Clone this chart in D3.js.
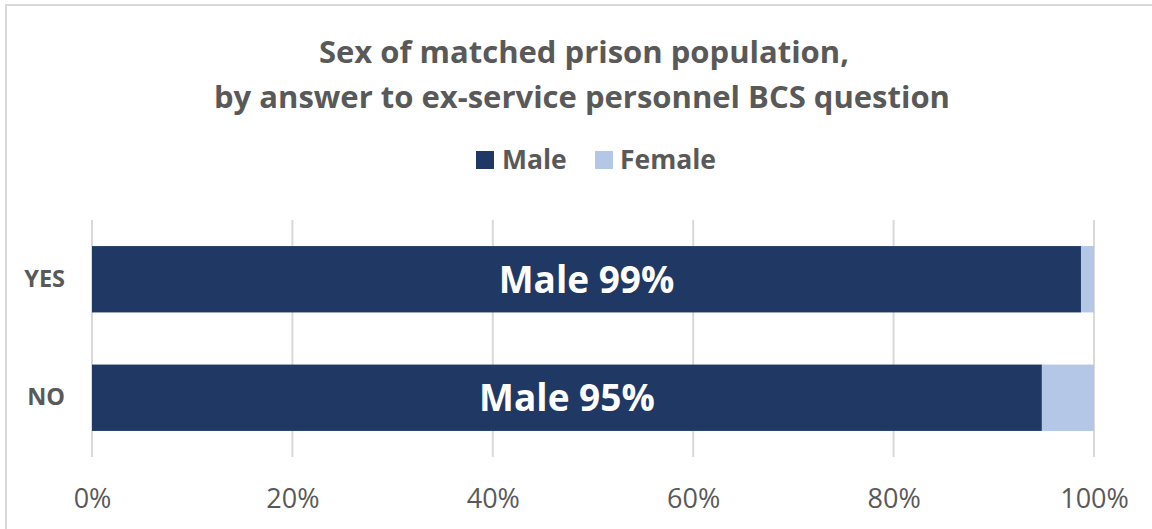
<!DOCTYPE html>
<html><head><meta charset="utf-8">
<script src="https://cdn.jsdelivr.net/npm/d3@7"></script>
<style>body{margin:0;background:#fff;} svg{display:block;font-family:"Open Sans",Lato,sans-serif;}</style>
</head><body>
<svg id="c" width="1152" height="529"></svg>
<script>
const categories = ["YES", "NO"];
const maleValues = [98.7, 94.8];
const femaleValues = [1.3, 5.2];
const barLabels = ["Male 99%", "Male 95%"];
const tickValues = [0, 20, 40, 60, 80, 100];
const seriesNames = ["Male", "Female"];
const colors = ["#203864", "#b4c7e7"];
const FONT = "'Open Sans',Lato,sans-serif";

const svg = d3.select("#c");
svg.append("rect").attr("x",6).attr("y",5).attr("width",1160).attr("height",540)
  .attr("fill","#fff").attr("stroke","#d9d9d9").attr("stroke-width",2);

const x = d3.scaleLinear().domain([0,100]).range([92,1094]);
const y = d3.scaleBand().domain(categories).range([220,457]).paddingInner(0.44).paddingOuter(0.22);

const title = svg.append("text").attr("text-anchor","middle").attr("fill","#595959")
  .attr("font-weight","bold").attr("font-size",31);
title.append("tspan").attr("x",584).attr("y",63).text("Sex of matched prison population,");
title.append("tspan").attr("x",582).attr("y",108).text("by answer to ex-service personnel BCS question");

// legend
const leg = [{x:476, tx:502},{x:595, tx:620}];
seriesNames.forEach((s,i)=>{
  svg.append("rect").attr("x",leg[i].x).attr("y",151).attr("width",18).attr("height",18).attr("fill",colors[i]);
  svg.append("text").attr("x",leg[i].tx).attr("y",169).attr("fill","#595959").attr("font-weight","bold")
    .attr("font-size",26.5).text(s);
});

// gridlines
svg.append("g").selectAll("line").data(tickValues).join("line")
  .attr("x1",d=>x(d)).attr("x2",d=>x(d)).attr("y1",220).attr("y2",457)
  .attr("stroke","#d9d9d9").attr("stroke-width",2);

// bars
const rows = categories.map((c,i)=>({c, m:maleValues[i], f:femaleValues[i], label:barLabels[i]}));
svg.append("g").selectAll("rect").data(rows).join("rect")
  .attr("x",x(0)).attr("y",d=>y(d.c)).attr("width",d=>x(d.m)-x(0)).attr("height",y.bandwidth()).attr("fill",colors[0]);
svg.append("g").selectAll("rect").data(rows).join("rect")
  .attr("x",d=>x(d.m)).attr("y",d=>y(d.c)).attr("width",d=>x(d.m+d.f)-x(d.m)).attr("height",y.bandwidth()).attr("fill",colors[1]);
svg.append("g").selectAll("text").data(rows).join("text")
  .attr("x",d=>(x(0)+x(d.m))/2).attr("y",d=>y(d.c)+y.bandwidth()/2).attr("dy","0.36em")
  .attr("text-anchor","middle").attr("fill","#fff").attr("font-weight","bold").attr("font-size",37)
  .text(d=>d.label);

// y axis labels
const ya = svg.append("g").attr("transform","translate(92,0)")
  .call(d3.axisLeft(y).tickSize(0).tickPadding(27));
ya.select(".domain").remove();
ya.selectAll("text").attr("font-size",23.5).attr("font-weight","bold").attr("fill","#595959")
  .attr("font-family",FONT);

// x axis
const xa = svg.append("g").attr("transform","translate(0,457)")
  .call(d3.axisBottom(x).tickValues(tickValues).tickFormat(d=>d+"%").tickSize(0).tickPadding(32));
xa.select(".domain").remove();
xa.selectAll("text").attr("font-size",27).attr("fill","#595959")
  .attr("font-family",FONT);
</script>
</body></html>
